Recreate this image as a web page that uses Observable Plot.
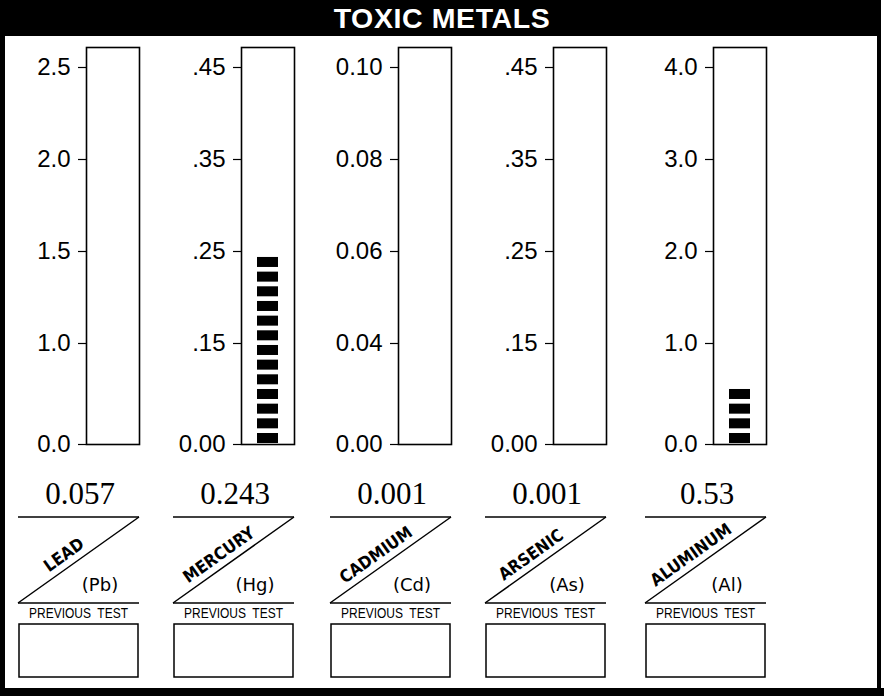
<!DOCTYPE html>
<html>
<head>
<meta charset="utf-8">
<script src="https://cdn.jsdelivr.net/npm/d3@7"></script>
<script src="https://cdn.jsdelivr.net/npm/@observablehq/plot@0.6"></script>
<style>
  html, body { margin: 0; padding: 0; background: #fff; }
  #page { position: relative; width: 884px; height: 696px; background: #fff; overflow: hidden; }
  .blk { position: absolute; background: #000; }
  #title { position: absolute; left: 0; top: 0; width: 884px; height: 36px; color: #fff;
           font: bold 28.5px "Liberation Sans", Arial, sans-serif; text-align: center; line-height: 36px; letter-spacing: 0.6px; }
  #titlebg { position: absolute; left: 0; top: 0; width: 880px; height: 36px; background: #000; }
  .panel { position: absolute; top: 36px; }
  .panel svg { overflow: visible; }
</style>
</head>
<body>
<div id="page">
  <div id="titlebg"></div>
  <div id="title">TOXIC METALS</div>
  <div class="blk" style="left:0;top:0;width:5px;height:696px"></div>
  <div class="blk" style="left:877px;top:0;width:4px;height:696px"></div>
  <div class="blk" style="left:0;top:688px;width:884px;height:8px"></div>
</div>
<script>
// ---- data ----
const metals = ["LEAD", "MERCURY", "CADMIUM", "ARSENIC", "ALUMINUM"];
const symbols = ["(Pb)", "(Hg)", "(Cd)", "(As)", "(Al)"];
const values = [0.057, 0.243, 0.001, 0.001, 0.53];
const valueLabels = ["0.057", "0.243", "0.001", "0.001", "0.53"];
const tickValues = [
  [0, 1.0, 1.5, 2.0, 2.5],
  [0, 0.15, 0.25, 0.35, 0.45],
  [0, 0.04, 0.06, 0.08, 0.10],
  [0, 0.15, 0.25, 0.35, 0.45],
  [0, 1.0, 2.0, 3.0, 4.0]
];
const tickLabels = [
  ["0.0", "1.0", "1.5", "2.0", "2.5"],
  ["0.00", ".15", ".25", ".35", ".45"],
  ["0.00", "0.04", "0.06", "0.08", "0.10"],
  ["0.00", ".15", ".25", ".35", ".45"],
  ["0.0", "1.0", "2.0", "3.0", "4.0"]
];
const previousLabel = "PREVIOUS  TEST";

// ---- layout ----
const barLefts = [86, 241, 398, 553, 713];
const W = 138, H = 652, mL = 80, mR = 5, mT = 11, mB = 244;
const yRange = [408, 307, 215, 123, 31];   // piecewise positions of the tick values
const pitch = 14.67, blockH = 10, blockBottom = 407;

const page = document.getElementById("page");

metals.forEach((name, i) => {
  const domain = tickValues[i];
  const labelMap = new Map(domain.map((d, k) => [d, tickLabels[i][k]]));
  let ys;
  try { ys = Plot.scale({y: {type: "linear", domain, range: yRange}}); }
  catch (e) { const s = d3.scaleLinear(domain, yRange); ys = {apply: s, invert: s.invert}; }
  const px = ys.apply(0) - ys.apply(values[i]);
  const n = Math.round(px / pitch);
  const blocks = d3.range(n).map(k => ({
    name,
    y1: ys.invert(blockBottom - k * pitch),
    y2: ys.invert(blockBottom - k * pitch - blockH)
  }));

  const svg = Plot.plot({
    width: W, height: H,
    marginLeft: mL, marginRight: mR, marginTop: mT, marginBottom: mB,
    style: {fontFamily: '"Liberation Sans", Arial, sans-serif', fontSize: "24px", background: "transparent", color: "#000", overflow: "visible"},
    x: {type: "band", domain: [name], padding: 0, axis: null},
    y: {type: "linear", domain, range: yRange},
    marks: [
      Plot.axisY({ticks: domain, tickFormat: d => labelMap.get(d), tickSize: 8, tickPadding: 8, fontSize: 24, label: null, strokeWidth: 1.2}),
      Plot.barY(blocks, {x: "name", y1: "y1", y2: "y2", fill: "#000", insetLeft: 16, insetRight: 16}),
      Plot.frame({stroke: "#000", strokeWidth: 1.6}),
      Plot.text([{name, label: valueLabels[i]}], {
        x: "name", text: "label", frameAnchor: "bottom", lineAnchor: "bottom",
        dy: 59, dx: -33, fontSize: 31, fontFamily: '"Liberation Serif", "Times New Roman", serif', fill: "#000"
      })
    ]
  });

  // form decoration below each bar
  const g = d3.select(svg).append("g").attr("fill", "none").attr("stroke", "#000");
  const R = W - mR, Lx = R - 121;
  const yA = 481, yB = 567;
  g.append("line").attr("x1", Lx).attr("x2", R).attr("y1", yA).attr("y2", yA).attr("stroke-width", 1.5);
  g.append("line").attr("x1", Lx).attr("x2", R).attr("y1", yB).attr("y2", yB).attr("stroke-width", 1.5);
  g.append("line").attr("x1", Lx).attr("y1", yB).attr("x2", R).attr("y2", yA).attr("stroke-width", 1.5);
  const ang = Math.atan2(yA - yB, R - Lx) * 180 / Math.PI;
  const t = 0.44;
  const cx = Lx + t * (R - Lx), cy = yB + t * (yA - yB);
  const tg = d3.select(svg).append("g").attr("fill", "#000");
  tg.append("text")
    .attr("transform", `translate(${cx},${cy}) rotate(${ang})`)
    .attr("text-anchor", "middle").attr("dy", -7)
    .style("font-family", '"DejaVu Sans Condensed", "DejaVu Sans", sans-serif')
    .style("font-stretch", "condensed").style("font-weight", "bold").style("font-size", "17px")
    .text(name);
  tg.append("text")
    .attr("x", R - 39).attr("y", 555).attr("text-anchor", "middle")
    .style("font-family", '"DejaVu Sans", sans-serif').style("font-size", "18px")
    .text(symbols[i]);
  tg.append("text")
    .attr("x", Lx + 60.5).attr("y", 582).attr("text-anchor", "middle")
    .attr("textLength", 99).attr("lengthAdjust", "spacingAndGlyphs")
    .style("font-family", '"Liberation Sans", Arial, sans-serif').style("font-size", "14px")
    .style("white-space", "pre")
    .text(previousLabel);
  g.append("rect").attr("x", Lx + 1).attr("y", 588).attr("width", 119).attr("height", 53).attr("stroke-width", 1.5);

  const div = document.createElement("div");
  div.className = "panel";
  div.style.left = (barLefts[i] - mL) + "px";
  div.appendChild(svg);
  page.appendChild(div);
});
</script>
</body>
</html>
